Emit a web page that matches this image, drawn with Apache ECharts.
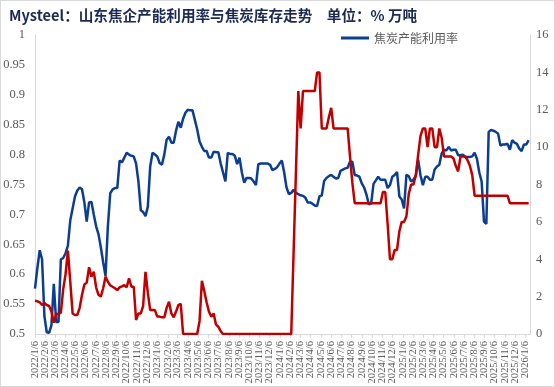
<!DOCTYPE html>
<html><head><meta charset="utf-8">
<script src="https://cdn.jsdelivr.net/npm/echarts@6/dist/echarts.min.js"></script>
<style>
html,body{margin:0;padding:0;background:#fff}
#c{position:absolute;left:0;top:0;width:555px;height:387px}
#f{position:absolute;left:0;top:0;width:555px;height:387px;box-sizing:border-box;border:1px solid #d9d9d9;pointer-events:none}
</style>
</head><body><div id="c"></div><div id="f"></div>
<script>
// ---- data ----
const titleText = 'Mysteel：山东焦企产能利用率与焦炭库存走势　单位：% 万吨';
const seriesNames = ['焦炭产能利用率', '焦炭库存'];
const firstWeek = '2022/1/6';   // weekly observations start here
const axisEnd = '2026/1/19';
const tickLabels = [
 '2022/1/6','2022/2/6','2022/3/6','2022/4/6','2022/5/6','2022/6/6','2022/7/6','2022/8/6','2022/9/6','2022/10/6','2022/11/6','2022/12/6',
 '2023/1/6','2023/2/6','2023/3/6','2023/4/6','2023/5/6','2023/6/6','2023/7/6','2023/8/6','2023/9/6','2023/10/6','2023/11/6','2023/12/6',
 '2024/1/6','2024/2/6','2024/3/6','2024/4/6','2024/5/6','2024/6/6','2024/7/6','2024/8/6','2024/9/6','2024/10/6','2024/11/6','2024/12/6',
 '2025/1/6','2025/2/6','2025/3/6','2025/4/6','2025/5/6','2025/6/6','2025/7/6','2025/8/6','2025/9/6','2025/10/6','2025/11/6','2025/12/6',
 '2026/1/6'
];
const leftTicks = [0.5, 1, 0.05];
const rightTicks = [0, 16, 2];

const utilRate = [
 0.576,0.61,0.64,0.625,0.53,0.503,0.502,0.515,0.584,0.52,
 0.52,0.625,0.627,0.635,0.648,0.69,0.71,0.73,0.74,0.745,
 0.742,0.72,0.688,0.72,0.721,0.7,0.68,0.667,0.645,0.62,
 0.597,0.68,0.735,0.742,0.744,0.744,0.79,0.787,0.795,0.803,
 0.8,0.798,0.797,0.785,0.755,0.707,0.704,0.697,0.713,0.78,
 0.803,0.8,0.797,0.786,0.783,0.8,0.825,0.83,0.82,0.82,
 0.84,0.855,0.845,0.86,0.87,0.875,0.874,0.874,0.858,0.842,
 0.822,0.813,0.806,0.806,0.795,0.795,0.805,0.804,0.804,0.785,
 0.77,0.755,0.803,0.801,0.801,0.798,0.784,0.795,0.77,0.753,
 0.761,0.761,0.76,0.755,0.749,0.784,0.785,0.785,0.785,0.785,
 0.783,0.774,0.776,0.779,0.785,0.79,0.77,0.745,0.734,0.736,
 0.741,0.736,0.734,0.732,0.731,0.728,0.72,0.72,0.718,0.715,
 0.714,0.73,0.732,0.756,0.761,0.764,0.766,0.763,0.76,0.761,
 0.773,0.775,0.777,0.778,0.788,0.788,0.766,0.765,0.763,0.752,
 0.745,0.733,0.717,0.718,0.751,0.757,0.763,0.758,0.758,0.758,
 0.744,0.749,0.763,0.766,0.771,0.73,0.725,0.71,0.766,0.764,
 0.755,0.758,0.765,0.791,0.765,0.749,0.763,0.763,0.758,0.758,
 0.775,0.78,0.783,0.802,0.808,0.807,0.813,0.807,0.808,0.808,
 0.799,0.799,0.8,0.796,0.796,0.796,0.797,0.803,0.793,0.77,
 0.755,0.688,0.684,0.838,0.841,0.84,0.838,0.835,0.815,0.817,
 0.817,0.818,0.808,0.824,0.82,0.818,0.81,0.806,0.817,0.817,
 0.824
];
const cokeStock = [
 1.78,1.75,1.7,1.55,1.67,1.55,1.5,1.2,0.6,1.07,
 1.07,1.14,2.4,3.2,4.46,2.8,1.1,1.02,1.02,1.4,
 2.1,2.65,2.75,3.57,3.07,3.33,2.5,2.1,2.0,2.45,
 3.07,2.8,2.6,2.53,2.45,2.35,2.5,2.55,2.62,2.5,
 2.98,2.53,2.53,0.75,1.1,1.1,1.5,3.33,2.2,1.28,
 1.28,1.28,0.93,0.93,0.89,0.89,1.4,1.73,1.1,0.89,
 1.2,1.55,1.62,0,0,0,0,0,0,0,
 0.7,2.85,2.3,1.7,1.2,0.92,1.1,0.5,0.39,0.15,
 0,0,0,0,0,0,0,0,0,0,
 0,0,0,0,0,0,0,0,0,0,
 0,0,0,0,0,0,0,0,0,0,
 null,null,13,11,13,13,13,13,13,13,
 14,14,11,11,11,11.6,12.1,11,11,11,
 11,11,11,11,9.5,8.1,7,7,7,7,
 7,7,7,7,7,7,7,7,7.6,7.6,
 5.9,4,4,4.5,4.5,5.5,6,6,6.3,7.5,
 8,8,8.5,9.6,10.6,11,11,10,11,11,
 10,10,11,10.5,9.5,9.5,9.5,9.5,9.4,9,
 8.7,9.5,9.5,9.5,9.3,9,8.5,7.4,7.4,7.4,
 7.4,7.4,7.4,7.4,7.4,7.4,7.4,7.4,7.4,7.4,
 7.4,7.4,7,7,7,7,7,7,7,7,
 7
];

// ---- build: daily category axis, weekly observations placed on their day ----
function ts(s){ const p = s.split('/').map(Number); return Date.UTC(p[0], p[1]-1, p[2]); }
const DAY = 86400000;
const start = ts(firstWeek);
const dayOf = s => Math.round((ts(s) - start) / DAY);
const nDays = dayOf(axisEnd) + 1;
const dayCats = Array.from({length: nDays}, (_, d) => String(d));
const weekDay = utilRate.map((_, i) => i * 7);
// two label layers (alternate months) so that dense rotated labels are all kept
const labelMaps = [{}, {}];
tickLabels.forEach((s, k) => labelMaps[k % 2][dayOf(s)] = s);
const allTicks = {}; tickLabels.forEach(s => allTicks[dayOf(s)] = true);

const axisGrey = '#d9d9d9';
const txtGrey = '#595959';
const labelStyle = {fontFamily: 'Liberation Serif', fontSize: 10.5, color: txtGrey};
function xAxisLayer(k) {
  return {
    type: 'category', data: dayCats, boundaryGap: false, position: 'bottom',
    axisLine: {show: k === 0, onZero: false, lineStyle: {color: axisGrey}},
    axisTick: {show: k === 0, interval: idx => !!allTicks[idx], length: 4, lineStyle: {color: axisGrey}},
    axisLabel: Object.assign({
      interval: idx => labelMaps[k][idx] !== undefined, rotate: 90, margin: 7, hideOverlap: false,
      formatter: (v, idx) => labelMaps[k][idx] || ''
    }, labelStyle),
    splitLine: {show: false}
  };
}

const chart = echarts.init(document.getElementById('c'), null, {renderer: 'canvas'});
chart.setOption({
  animation: false,
  backgroundColor: '#fff',
  title: {
    text: titleText, left: 4, top: 3,
    textStyle: {fontFamily: 'Noto Sans CJK SC', fontSize: 14.6, fontWeight: 'bold', color: '#1b2a55'}
  },
  legend: {
    data: [{name: seriesNames[0], icon: 'rect'}], left: 336, top: 27, itemWidth: 28, itemHeight: 3, itemGap: 4,
    textStyle: {fontFamily: 'Noto Sans CJK SC', fontSize: 12, color: txtGrey}
  },
  grid: {left: 35, right: 25, top: 35, bottom: 53, containLabel: false},
  xAxis: [xAxisLayer(0), xAxisLayer(1)],
  yAxis: [{
    type: 'value', min: leftTicks[0], max: leftTicks[1], interval: leftTicks[2], position: 'left',
    axisLine: {show: true, lineStyle: {color: axisGrey}},
    axisTick: {show: false}, splitLine: {show: false},
    axisLabel: {margin: 10, fontFamily: 'Liberation Serif', fontSize: 12.5, color: txtGrey,
      formatter: v => String(Math.round(v * 100) / 100)}
  }, {
    type: 'value', min: rightTicks[0], max: rightTicks[1], interval: rightTicks[2], position: 'right',
    axisLine: {show: true, lineStyle: {color: axisGrey}},
    axisTick: {show: false}, splitLine: {show: false},
    axisLabel: {margin: 6, fontFamily: 'Liberation Serif', fontSize: 12.5, color: txtGrey}
  }],
  series: [{
    name: seriesNames[0], type: 'line', xAxisIndex: 0, yAxisIndex: 0, symbol: 'none', showSymbol: false,
    data: utilRate.map((v, i) => [weekDay[i], v]),
    lineStyle: {width: 2.5, color: '#0b3d91'}, itemStyle: {color: '#0b3d91'}
  }, {
    name: seriesNames[1], type: 'line', xAxisIndex: 0, yAxisIndex: 1, symbol: 'none', showSymbol: false, connectNulls: true,
    data: cokeStock.map((v, i) => [weekDay[i], v]),
    lineStyle: {width: 2.5, color: '#c00000'}, itemStyle: {color: '#c00000'}
  }]
});
</script></body></html>
